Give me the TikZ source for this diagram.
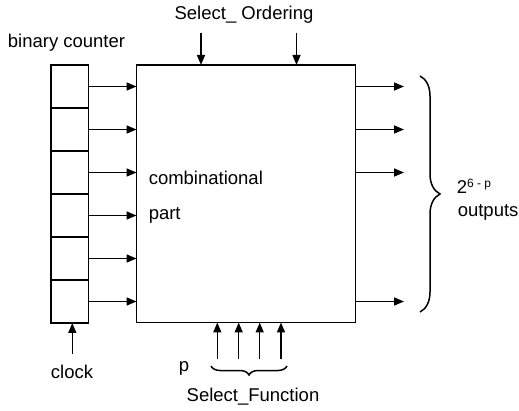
\documentclass[tikz,border=0pt]{standalone}
\usepackage{fontspec}
\setmainfont{Liberation Sans}
\usetikzlibrary{arrows.meta,decorations.pathreplacing}
\begin{document}
\begin{tikzpicture}[x=1pt,y=-1pt,
  line width=1.5pt,
  every node/.style={font=\fontsize{18.5}{22}\selectfont},
  arr/.style={-{Triangle[length=10pt,width=8pt]}},
  cell/.style={draw,minimum width=37.5pt,minimum height=43pt,inner sep=0pt,outer sep=0pt},
  lbl/.style={inner sep=0pt}]
\useasboundingbox (0,0) rectangle (519,411);
% main box
\node[draw,minimum width=219pt,minimum height=257.5pt,inner sep=0pt,outer sep=0pt] (box) at (246,193.75) {};
% counter cells
\foreach \i in {1,...,6}{
  \node[cell] (c\i) at (69.75,{86.5+43*(\i-1)}) {};
  \draw[arr] (c\i.east) -- (box.west |- c\i);
}
% labels
\node[lbl] (bc) at (66.5,43) {binary counter};
\node[lbl] (so) at (244,15) {Select\_ Ordering};
\node[lbl,anchor=west] (comb) at (148,178) {combinational};
\node[lbl,anchor=west] (part) at (148,215) {part};
\node[lbl] (clk) at (72,372) {clock};
\node[lbl] (p) at (184,368) {p};
\node[lbl] (sf) at (253,397) {Select\_Function};
\node[lbl,anchor=west] (two) at (456,186) {2\textsuperscript{\fontsize{12}{14}\selectfont 6 - p}};
\node[lbl,anchor=west] (outs) at (457,212) {outputs};
% top arrows
\coordinate (t1) at (201,33);
\coordinate (t2) at (296.5,33);
\draw[arr] (t1) -- (t1 |- box.north);
\draw[arr] (t2) -- (t2 |- box.north);
% clock
\coordinate (ck) at (72.3,354);
\draw[arr] (ck) -- (ck |- c6.south);
% outputs
\foreach \y [count=\k] in {86.5,129.5,172.5,301.5}{
  \coordinate (o\k) at (404,\y);
  \draw[arr] (box.east |- o\k) -- (o\k);
}
% bottom arrows
\foreach \x [count=\k] in {217.3,238.7,259.7,281}{
  \coordinate (b\k) at (\x,359);
  \draw[arr] (b\k) -- (b\k |- box.south);
}
% braces
\coordinate (br1) at (420,76);
\coordinate (br2) at (420,312);
\draw[line width=1.5pt,decorate,decoration={brace,amplitude=20pt,aspect=0.5}] (br1) -- (br2);
\coordinate (bb1) at (287,366);
\coordinate (bb2) at (211,366);
\draw[line width=1.5pt,decorate,decoration={brace,amplitude=9pt}] (bb1) -- (bb2);
\end{tikzpicture}
\end{document}
